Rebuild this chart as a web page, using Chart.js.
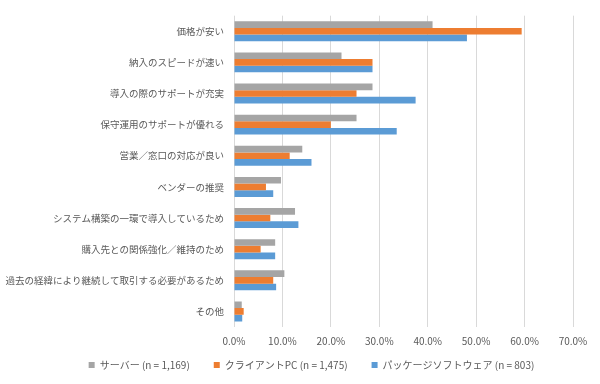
<!DOCTYPE html>
<html lang="ja">
<head>
<meta charset="UTF-8">
<title>選定理由</title>
<script src="https://cdn.jsdelivr.net/npm/chart.js"></script>
<style>
    body { margin: 0; background: #fff; }
    #wrap { width: 600px; height: 384px; }
</style>
</head>
<body>
<div id="wrap"><canvas id="myChart" width="600" height="384"></canvas></div>
<script>
    var categories = [
        '価格が安い',
        '納入のスピードが速い',
        '導入の際のサポートが充実',
        '保守運用のサポートが優れる',
        '営業／窓口の対応が良い',
        'ベンダーの推奨',
        'システム構築の一環で導入しているため',
        '購入先との関係強化／維持のため',
        '過去の経緯により継続して取引する必要があるため',
        'その他'
    ];
    var seriesNames = ['サーバー (n = 1,169)', 'クライアントPC (n = 1,475)', 'パッケージソフトウェア (n = 803)'];
    var server  = [41.0, 22.2, 28.6, 25.3, 14.1, 9.7, 12.6, 8.5, 10.4, 1.6];
    var client  = [59.4, 28.6, 25.3, 20.0, 11.5, 6.6, 7.5, 5.5, 8.1, 2.0];
    var pkgSoft = [48.1, 28.6, 37.5, 33.6, 16.0, 8.1, 13.3, 8.5, 8.7, 1.7];
    var colors = ['#A5A5A5', '#ED7D31', '#5B9BD5'];

    var font = "'Noto Sans CJK JP', 'Noto Sans', sans-serif";

    var data = {
        labels: categories,
        datasets: [server, client, pkgSoft].map(function (vals, i) {
            return {
                label: seriesNames[i],
                data: vals,
                backgroundColor: colors[i],
                borderWidth: 0,
                categoryPercentage: 0.64,
                barPercentage: 1.0
            };
        })
    };

    // nudge legend right/up and let the x tick labels draw below the axis box
    var nudge = {
        id: 'nudge',
        afterLayout: function (chart) {
            var lg = chart.legend;
            lg.left += 25; lg.right += 25;
            lg.top -= 4; lg.bottom -= 4;
            chart.scales.x.bottom += 12;
        }
    };

    var options = {
        indexAxis: 'y',
        responsive: false,
        animation: false,
        layout: { padding: { top: 13, right: 27, left: 0, bottom: 0 } },
        plugins: {
            legend: {
                position: 'bottom',
                labels: {
                    boxWidth: 6,
                    boxHeight: 6,
                    padding: 24,
                    color: '#595959',
                    font: { family: font, size: 10 }
                }
            },
            tooltip: { enabled: false }
        },
        scales: {
            x: {
                min: 0,
                max: 70,
                ticks: {
                    stepSize: 10,
                    color: '#595959',
                    padding: 8,
                    font: { family: font, size: 10 },
                    callback: function (v) { return v.toFixed(1) + '%'; }
                },
                grid: { color: '#D9D9D9', drawTicks: false },
                border: { display: false },
                afterFit: function (s) { s.height = 13; }
            },
            y: {
                ticks: {
                    color: '#595959',
                    padding: 10,
                    font: { family: font, size: 9.5 }
                },
                grid: { display: false, drawTicks: false },
                border: { display: false },
                afterFit: function (s) { s.width = 234; }
            }
        }
    };

    var ctx = document.getElementById('myChart').getContext('2d');
    var myChart = new Chart(ctx, { type: 'bar', data: data, options: options, plugins: [nudge] });
</script>
</body>
</html>
